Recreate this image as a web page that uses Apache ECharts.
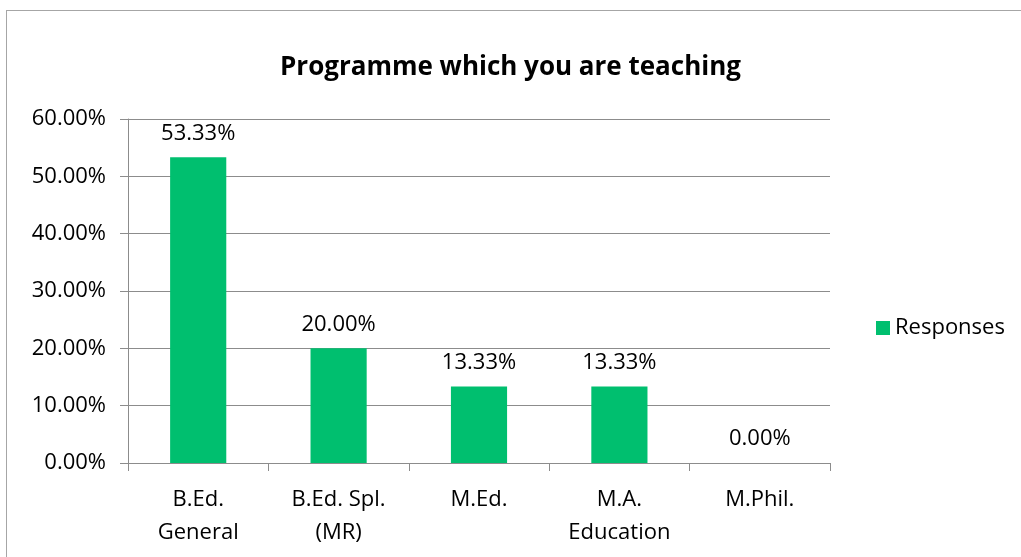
<!DOCTYPE html>
<html>
<head>
<meta charset="utf-8">
<script src="https://cdn.jsdelivr.net/npm/echarts@6/dist/echarts.min.js"></script>
<style>
  html, body { margin: 0; padding: 0; background: #fff; }
  #container { width: 1021px; height: 557px; }
  #frame { position: absolute; left: 6px; top: 10px; width: 1030px; height: 560px; border: 1px solid #a6a6a6; pointer-events: none; }
</style>
</head>
<body>
<div id="container"></div>
<div id="frame"></div>
<script>
var dom = document.getElementById("container");
var myChart = echarts.init(dom);

var categories = ["B.Ed.\nGeneral", "B.Ed. Spl.\n(MR)", "M.Ed.", "M.A.\nEducation", "M.Phil."];
var responses = [0.5333, 0.20, 0.1333, 0.1333, 0.0];
var fontFamily = "Open Sans";

var option = {
  animation: false,
  title: {
    text: "Programme which you are teaching",
    left: "center",
    top: 50,
    textStyle: { fontFamily: fontFamily, fontSize: 26, fontWeight: "bold", color: "#000" }
  },
  legend: {
    data: ["Responses"],
    left: 871,
    top: 312,
    icon: "rect",
    itemWidth: 14,
    itemHeight: 14,
    itemGap: 8,
    textStyle: { fontFamily: fontFamily, fontSize: 22, color: "#000" }
  },
  grid: {
    left: 128,
    right: 191,
    top: 119,
    bottom: 94
  },
  xAxis: {
    type: "category",
    data: categories,
    axisLine: { lineStyle: { color: "#8c8c8c", width: 1 } },
    axisTick: { show: true, length: 8, lineStyle: { color: "#8c8c8c" } },
    axisLabel: {
      margin: 20,
      lineHeight: 33,
      fontFamily: fontFamily,
      fontSize: 22,
      color: "#000"
    }
  },
  yAxis: {
    type: "value",
    min: 0,
    max: 0.6,
    interval: 0.1,
    axisLine: { show: true, lineStyle: { color: "#8c8c8c" } },
    axisTick: { show: true, length: 8, lineStyle: { color: "#8c8c8c" } },
    splitLine: { lineStyle: { color: "#8c8c8c" } },
    axisLabel: {
      margin: 22,
      fontFamily: fontFamily,
      fontSize: 22,
      color: "#000",
      formatter: function (v) { return (v * 100).toFixed(2) + "%"; }
    }
  },
  series: [{
    name: "Responses",
    type: "bar",
    data: responses,
    barWidth: "40%",
    itemStyle: { color: "#00bf6f" },
    label: {
      show: true,
      position: "top",
      distance: 13,
      fontFamily: fontFamily,
      fontSize: 22,
      color: "#000",
      formatter: function (p) { return (p.value * 100).toFixed(2) + "%"; }
    }
  }]
};

myChart.setOption(option);
</script>
</body>
</html>
